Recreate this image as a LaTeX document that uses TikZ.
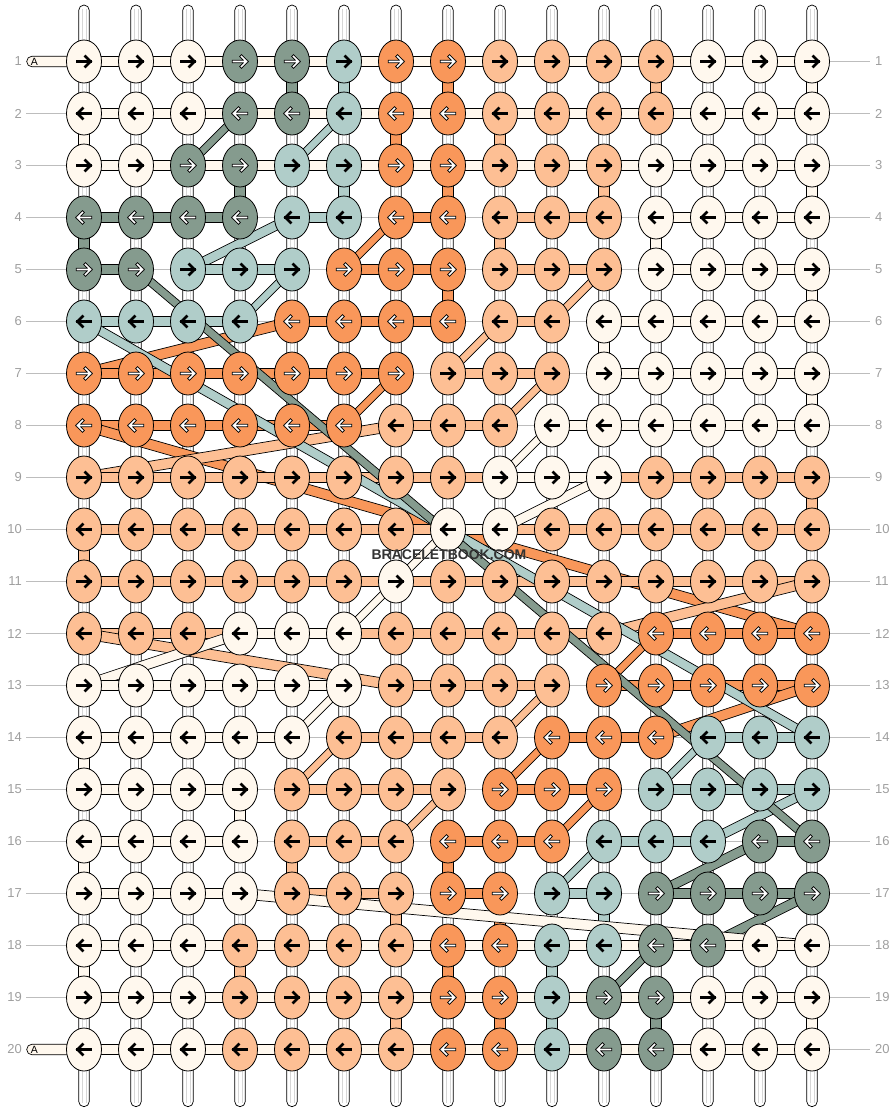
\documentclass[tikz,border=0pt]{standalone}
\usepackage{fontspec}
\setmainfont{Liberation Sans}
\usepackage{tikz}
\usetikzlibrary{calc, backgrounds, shapes.geometric}

\definecolor{kC}{HTML}{FFF8EE}
\definecolor{kD}{HTML}{859B8E}
\definecolor{kT}{HTML}{B0CDC9}
\definecolor{kO}{HTML}{F9975A}
\definecolor{kP}{HTML}{FDBF94}
\definecolor{guidegray}{HTML}{BDBDBD}
\definecolor{numgray}{HTML}{9E9E9E}
\definecolor{wmgray}{HTML}{333333}

% one knotting string, given as the list of knots row/col it passes
\newcommand{\strand}[2]{%
  \foreach \kr/\kc [count=\idx, remember=\kr as \pr (initially 0), remember=\kc as \pc (initially 0)] in {#2}{%
    \ifnum\idx>1\relax
      \ifnum\kc=\pc\relax
        \filldraw[fill=#1, thread] ($(k-\pr-\pc.center)+(-5.3,0)$) rectangle ($(k-\kr-\kc.center)+(5.3,0)$);
      \else
        \filldraw[fill=#1, thread] ($(k-\pr-\pc.center)+(0,-5.3)$) -- ($(k-\kr-\kc.center)+(0,-5.3)$) -- ($(k-\kr-\kc.center)+(0,5.3)$) -- ($(k-\pr-\pc.center)+(0,5.3)$) -- cycle;
      \fi
    \fi
  }%
}

\begin{document}
\begin{tikzpicture}[
    x=1pt, y=-1pt,
    knot/.style={ellipse, draw=black, line width=0.8pt, minimum width=35pt, minimum height=43pt, inner sep=0pt},
    thread/.style={draw=black, line width=0.7pt},
    warp/.style={fill=white, draw=black, line width=0.7pt, rounded corners=5.3pt},
    warpcore/.style={draw=black!16, line width=0.45pt},
    guide/.style={draw=guidegray, line width=0.8pt},
    lightarrow/.style={draw=black, line width=2.6pt, line cap=rect, line join=miter},
    darkarrow/.style={draw=black, double=white, double distance=1.6pt, line width=0.9pt, line cap=rect, line join=miter},
    arrC/.style={lightarrow}, arrT/.style={lightarrow}, arrP/.style={lightarrow},
    arrD/.style={darkarrow}, arrO/.style={darkarrow},
    rownum/.style={text=numgray, font=\fontsize{13}{13}\selectfont, inner sep=0pt},
    tag/.style={font=\fontsize{10.5}{10.5}\selectfont, inner sep=0pt},
    watermark/.style={text=wmgray, font=\bfseries\fontsize{14}{14}\selectfont, inner sep=0pt}
]
\useasboundingbox (0,0) rectangle (896,1112);

% Knots, row by row
\foreach \tones [count=\ri] in {
    {C,C,C,D,D,T,O,O,P,P,P,P,C,C,C},
    {C,C,C,D,D,T,O,O,P,P,P,P,C,C,C},
    {C,C,D,D,T,T,O,O,P,P,P,C,C,C,C},
    {D,D,D,D,T,T,O,O,P,P,P,C,C,C,C},
    {D,D,T,T,T,O,O,O,P,P,P,C,C,C,C},
    {T,T,T,T,O,O,O,O,P,P,C,C,C,C,C},
    {O,O,O,O,O,O,O,P,P,P,C,C,C,C,C},
    {O,O,O,O,O,O,P,P,P,C,C,C,C,C,C},
    {P,P,P,P,P,P,P,P,C,C,C,P,P,P,P},
    {P,P,P,P,P,P,P,C,C,P,P,P,P,P,P},
    {P,P,P,P,P,P,C,P,P,P,P,P,P,P,P},
    {P,P,P,C,C,C,P,P,P,P,P,O,O,O,O},
    {C,C,C,C,C,C,P,P,P,P,O,O,O,O,O},
    {C,C,C,C,C,P,P,P,P,O,O,O,T,T,T},
    {C,C,C,C,P,P,P,P,O,O,O,T,T,T,T},
    {C,C,C,C,P,P,P,O,O,O,T,T,T,D,D},
    {C,C,C,C,P,P,P,O,O,T,T,D,D,D,D},
    {C,C,C,P,P,P,P,O,O,T,T,D,D,C,C},
    {C,C,C,P,P,P,P,O,O,T,D,D,C,C,C},
    {C,C,C,P,P,P,P,O,O,T,D,D,C,C,C}%
}{
    \pgfmathsetmacro{\sgn}{ifthenelse(mod(\ri,2)==1,1,-1)}
    \node[rownum, anchor=east] (left-\ri) at (22, {61.5+52*(\ri-1)}) {\ri};
    \node[rownum, anchor=west] (right-\ri) at (875, {61.5+52*(\ri-1)}) {\ri};
    \foreach \tone [count=\ci] in \tones {
        \node[knot, fill=k\tone] (k-\ri-\ci) at ({84+52*(\ci-1)}, {61.5+52*(\ri-1)}) {};
        \begin{scope}[shift={(k-\ri-\ci.center)}, xscale=\sgn]
            \draw[arr\tone] (-6.5,0) -- (6.5,0) (1.5,-5) -- (6.5,0) -- (1.5,5);
        \end{scope}
    }
}

% String A labels
\node[tag] (tag-top) at (34.5, 61.5) {A};
\node[tag] (tag-bottom) at (34.5, 1049.5) {A};

% Watermark
\node[watermark] (brand) at (449, 555) {BRACELETBOOK.COM};

\begin{scope}[on background layer]
    % Row guides
    \foreach \ri in {1,...,20}
        \draw[guide] ($(left-\ri.east)+(4,0)$) -- ($(right-\ri.west)+(-5,0)$);

    % Base strings
    \foreach \ci in {1,...,15}{
        \draw[warp] ($(k-1-\ci.center)+(-5.3,-56.5)$) rectangle ($(k-20-\ci.center)+(5.3,57.2)$);
        \draw[warpcore] ($(k-1-\ci.center)+(-1.8,-53)$) -- ($(k-20-\ci.center)+(-1.8,53)$)
                        ($(k-1-\ci.center)+(1.8,-53)$) -- ($(k-20-\ci.center)+(1.8,53)$);
    }

    % Knotting strings
    \strand{kO}{1/7,1/8,2/8,2/7,3/7,3/8,4/8,4/7,5/6,5/8,6/8,6/5,7/1,7/7,8/6,8/1,12/15,12/12,13/11,13/15,14/12,14/10,15/9,15/11,16/10,16/8,17/8,17/9,18/9,18/8,19/8,19/9,20/9,20/8}
    \strand{kP}{1/9,1/12,2/12,2/9,3/9,3/11,4/11,4/9,5/9,5/11,6/10,6/9,7/8,7/10,8/9,8/7,9/1,9/15,10/15,10/1,11/1,11/15,12/11,12/1,13/7,13/10,14/9,14/6,15/5,15/8,16/7,16/5,17/5,17/7,18/7,18/4,19/4,19/7,20/7,20/4}
    \strand{kT}{1/6,2/6,3/5,3/6,4/6,4/5,5/3,5/5,6/4,6/1,14/15,14/13,15/12,15/15,16/13,16/11,17/10,17/11,18/11,18/10,19/10,20/10}
    \strand{kD}{1/4,1/5,2/5,2/4,3/3,3/4,4/4,4/1,5/1,5/2,16/15,16/14,17/12,17/15,18/13,18/12,19/11,19/12,20/12,20/11}

    % String A
    \draw[thread, fill=kC, rounded corners=5.3pt] ($(tag-top)+(-7.8,-5.3)$) rectangle ($(k-1-1.center)+(0,5.3)$);
    \draw[thread, fill=kC, rounded corners=5.3pt] ($(tag-bottom)+(-7.8,-5.3)$) rectangle ($(k-20-1.center)+(0,5.3)$);
    \strand{kC}{1/1,1/15,2/15,2/1,3/1,3/15,4/15,4/12,5/12,5/15,6/15,6/11,7/11,7/15,8/15,8/10,9/9,9/11,10/9,10/8,11/7,12/6,12/4,13/1,13/6,14/5,14/1,15/1,15/4,16/4,16/1,17/1,17/4,18/15,18/1,19/1,19/15,20/15,20/1}
\end{scope}

\end{tikzpicture}
\end{document}
